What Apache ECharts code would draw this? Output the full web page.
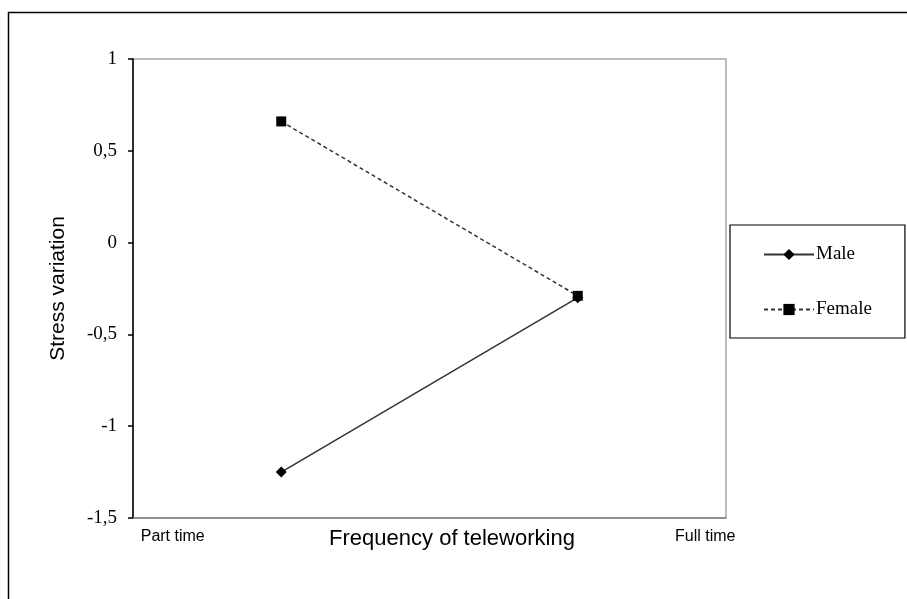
<!DOCTYPE html>
<html>
<head>
<meta charset="utf-8">
<script src="https://cdn.jsdelivr.net/npm/echarts@6/dist/echarts.min.js"></script>
<style>
html,body{margin:0;padding:0;background:#fff;}
#chart{width:907px;height:599px;}
</style>
</head>
<body>
<div id="chart"></div>
<script>
// Data
var xLevels = [0.25, 0.75];            // positions of the two frequency levels on the 0..1 axis
var maleValues = [-1.25, -0.30];
var femaleValues = [0.66, -0.29];
var seriesNames = ['Male', 'Female'];
var xEndLabels = ['Part time', 'Full time'];
var xEndValues = [0.067, 0.965];
var yTicks = [-1.5, -1, -0.5, 0, 0.5, 1];

function pairs(xs, ys) { return xs.map(function (x, i) { return [x, ys[i]]; }); }

var chart = echarts.init(document.getElementById('chart'), null, {renderer: 'canvas'});
var serif = '"Liberation Serif", "Times New Roman", serif';
var sans = '"Liberation Sans", Arial, sans-serif';

chart.setOption({
  animation: false,
  backgroundColor: '#fff',
  graphic: [{
    type: 'rect', silent: true, z: -10,
    shape: {x: 8.5, y: 12.5, width: 1000, height: 1000},
    style: {fill: 'none', stroke: '#000', lineWidth: 1.5}
  }],
  grid: {
    left: 133, right: 181, top: 59, bottom: 81,
    show: true, borderColor: '#a6a6a6', borderWidth: 1.5, backgroundColor: '#fff'
  },
  legend: {
    left: 730, top: 225,
    orient: 'vertical',
    data: seriesNames,
    borderColor: '#000', borderWidth: 1.2,
    padding: [20, 33, 19, 33],
    itemGap: 36, itemWidth: 50, itemHeight: 14,
    textStyle: {fontFamily: serif, fontSize: 19, color: '#000', padding: [0, 0, 0, -3]}
  },
  xAxis: [{
    type: 'value', min: 0, max: 1,
    axisLine: {show: true, onZero: false, lineStyle: {color: '#808080', width: 1.5}},
    axisTick: {show: false},
    splitLine: {show: false},
    axisLabel: {
      show: true,
      customValues: xEndValues,
      formatter: function (v) {
        var i = xEndValues.indexOf(v);
        return i >= 0 ? xEndLabels[i] : '';
      },
      margin: 11,
      fontFamily: sans, fontSize: 16, color: '#000'
    },
    name: 'Frequency of teleworking',
    nameLocation: 'middle', nameGap: 10, nameMoveOverlap: false,
    nameTextStyle: {fontFamily: sans, fontSize: 22, color: '#000', padding: [0, 0, 0, 45], verticalAlign: 'top'}
  }],
  yAxis: [{
    type: 'value', min: -1.5, max: 1, interval: 0.5,
    axisLine: {show: true, onZero: false, lineStyle: {color: '#000', width: 1.5}},
    axisTick: {show: true, length: 5, lineStyle: {color: '#000', width: 1.5}},
    splitLine: {show: false},
    axisLabel: {
      margin: 16,
      fontFamily: serif, fontSize: 19, color: '#000',
      formatter: function (v) { return String(v).replace('.', ','); }
    },
    name: 'Stress variation',
    nameLocation: 'middle', nameGap: 64, nameMoveOverlap: false,
    nameTextStyle: {fontFamily: sans, fontSize: 21, color: '#000'}
  }],
  series: [{
    name: seriesNames[0], type: 'line',
    data: pairs(xLevels, maleValues),
    symbol: 'diamond', symbolSize: 11,
    lineStyle: {color: '#333', width: 1.5, type: 'solid'},
    itemStyle: {color: '#000'}
  }, {
    name: seriesNames[1], type: 'line',
    data: pairs(xLevels, femaleValues),
    symbol: 'rect', symbolSize: 10,
    lineStyle: {color: '#333', width: 1.5, type: [4, 3]},
    itemStyle: {color: '#000'}
  }]
});
</script>
</body>
</html>
